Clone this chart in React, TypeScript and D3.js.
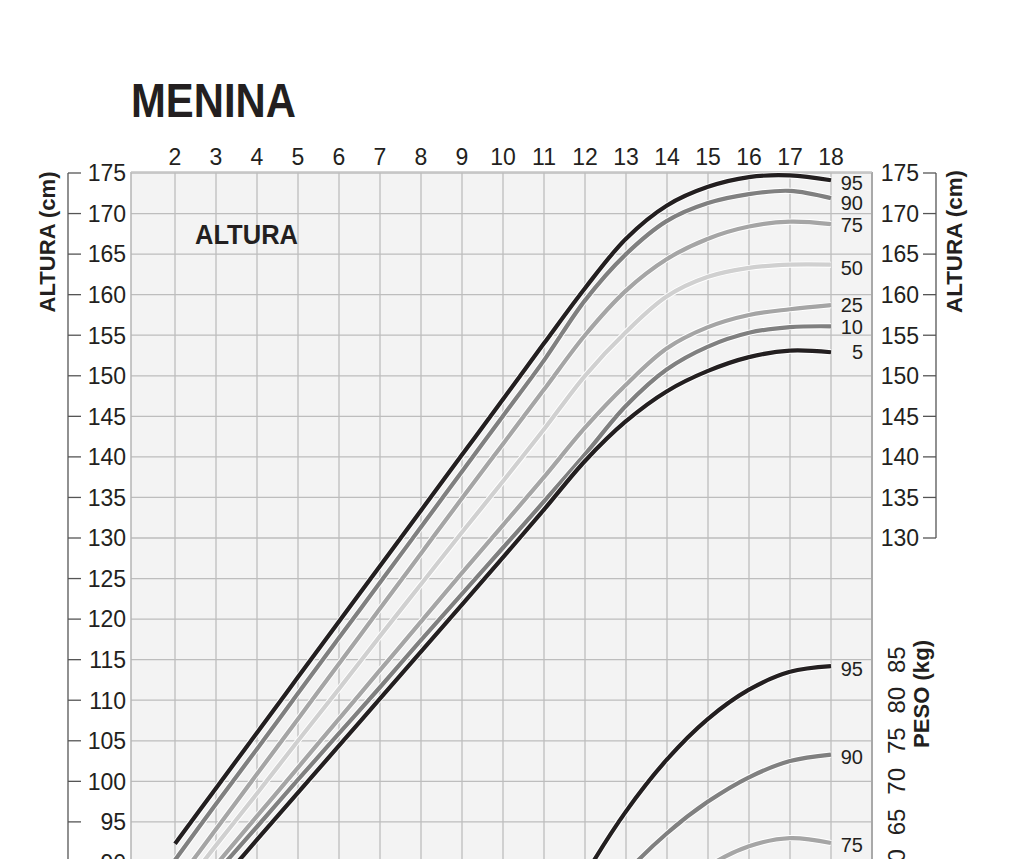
import React from 'react';
import * as d3 from 'd3';

// ---------- DATA ----------
const AGES = [2, 3, 4, 5, 6, 7, 8, 9, 10, 11, 12, 13, 14, 15, 16, 17, 18];
const H_P95 = [92.3, 99.15, 106.0, 112.85, 119.7, 126.55, 133.4, 140.25, 147.1, 154.0, 160.8, 166.9, 171.0, 173.3, 174.5, 174.7, 174.1];
const H_P90 = [90.3, 97.2, 104.0, 110.85, 117.7, 124.5, 131.35, 138.2, 145.05, 151.9, 159.3, 165.0, 169.1, 171.3, 172.4, 172.8, 171.9];
const H_P75 = [87.3, 94.1, 100.9, 107.7, 114.5, 121.3, 128.1, 134.9, 141.6, 148.3, 155.0, 160.5, 164.4, 166.9, 168.4, 169.0, 168.7];
const H_P50 = [85.6, 92.1, 98.5, 105.0, 111.4, 117.9, 124.3, 130.7, 137.0, 143.4, 150.0, 155.4, 159.8, 162.2, 163.3, 163.7, 163.7];
const H_P25 = [83.8, 89.7, 95.7, 101.7, 107.7, 113.7, 119.7, 125.7, 131.6, 137.5, 143.6, 148.9, 153.4, 156.0, 157.5, 158.2, 158.7];
const H_P10 = [83.0, 88.7, 94.4, 100.2, 105.9, 111.6, 117.4, 123.1, 128.8, 134.5, 140.3, 146.3, 150.8, 153.6, 155.3, 156.0, 156.1];
const H_P5 = [81.3, 87.0, 92.8, 98.6, 104.4, 110.2, 116.0, 121.8, 127.6, 133.5, 139.5, 144.4, 148.1, 150.6, 152.3, 153.1, 152.9];

const W_AGES_95 = [11, 12, 13, 14, 15, 16, 17, 18];
const W_P95 = [49.1, 58.4, 66.3, 72.7, 77.7, 81.3, 83.5, 84.2];
const W_AGES_90 = [12, 13, 14, 15, 16, 17, 18];
const W_P90 = [52.5, 58.7, 63.6, 67.5, 70.5, 72.5, 73.3];
const W_AGES_75 = [13, 14, 15, 16, 17, 18];
const W_P75 = [49.7, 55.4, 59.5, 62.0, 63.0, 62.4];

const AGE_TICKS = AGES;
const LEFT_TICKS = [175, 170, 165, 160, 155, 150, 145, 140, 135, 130, 125, 120, 115, 110, 105, 100, 95, 90, 85];
const RIGHT_TICKS = [175, 170, 165, 160, 155, 150, 145, 140, 135, 130];
const WEIGHT_TICKS = [85, 80, 75, 70, 65, 60];

const TITLE = 'MENINA';
const PANEL_LABEL = 'ALTURA';
const HEIGHT_AXIS_TITLE = 'ALTURA (cm)';
const WEIGHT_AXIS_TITLE = 'PESO (kg)';

// ---------- STYLE / LAYOUT ----------
const BLACK = '#231f20';
const GREY_D = '#808080';
const GREY_M = '#a5a5a5';
const GREY_L = '#d0d0d0';

const heightSeries = [
  { label: '50', values: H_P50, color: GREY_L, nudge: 3 },
  { label: '25', values: H_P25, color: GREY_M, nudge: 0 },
  { label: '75', values: H_P75, color: GREY_M, nudge: 1 },
  { label: '10', values: H_P10, color: GREY_D, nudge: 0 },
  { label: '90', values: H_P90, color: GREY_D, nudge: 5 },
  { label: '5', values: H_P5, color: BLACK, nudge: 0 },
  { label: '95', values: H_P95, color: BLACK, nudge: 2 },
];
const weightSeries = [
  { label: '75', ages: W_AGES_75, values: W_P75, color: GREY_M, nudge: 2 },
  { label: '90', ages: W_AGES_90, values: W_P90, color: GREY_D, nudge: 2 },
  { label: '95', ages: W_AGES_95, values: W_P95, color: BLACK, nudge: 3 },
];

const FONT = '"Liberation Sans", Arial, Helvetica, sans-serif';
const PL = 131, PR = 872, PT = 172, PB = 960;

const x = d3.scaleLinear().domain([2, 18]).range([175, 831]);
const y = d3.scaleLinear().domain([130, 175]).range([538, 173]);
const yW = d3.scaleLinear().domain([55, 85]).range([y(85), y(115)]);

export default function App() {
  const curve = d3.curveCatmullRom.alpha(0.5);
  const hLine = d3.line<number>()
    .x((_, i) => x(AGES[i]))
    .y((d) => y(d))
    .curve(curve);

  const gridAges = d3.range(2, 19);
  const gridH = d3.range(85, 180, 5);

  return (
    <svg width={1024} height={859} style={{ position: 'absolute', left: 0, top: 0, background: '#fff' }} fontFamily={FONT}>
      <defs>
        <clipPath id="plotclip">
          <rect x={PL} y={PT} width={PR - PL} height={PB - PT} />
        </clipPath>
      </defs>
      {/* title */}
      <text x={131} y={117} fontSize={49} fontWeight="bold" fill={BLACK} textLength={165} lengthAdjust="spacingAndGlyphs">{TITLE}</text>

      {/* plot background */}
      <rect x={PL} y={PT} width={PR - PL} height={PB - PT} fill="#f3f3f3" />
      {gridAges.map((a) => (
        <line key={'v' + a} x1={x(a)} x2={x(a)} y1={PT} y2={PB} stroke="#bdbdbd" strokeWidth={1.3} />
      ))}
      {gridH.map((h) => (
        <line key={'h' + h} x1={PL} x2={PR} y1={y(h)} y2={y(h)} stroke="#bdbdbd" strokeWidth={1.3} />
      ))}
      <line x1={PL} x2={PL} y1={PT} y2={PB} stroke="#b5b5b5" strokeWidth={1.5} />
      <line x1={PR} x2={PR} y1={PT} y2={PB} stroke="#a9a9a9" strokeWidth={2} />
      <line x1={PL} x2={PR} y1={PT} y2={PT} stroke="#c4c4c4" strokeWidth={1.3} />

      <text x={195} y={244} fontSize={27} fontWeight="bold" fill={BLACK} textLength={103} lengthAdjust="spacingAndGlyphs">{PANEL_LABEL}</text>

      {/* height curves */}
      <g clipPath="url(#plotclip)">
        {heightSeries.map((s) => {
          const d = hLine(s.values) || '';
          return (
            <g key={'hs' + s.label}>
              <path d={d} fill="none" stroke="#fff" strokeWidth={6} />
              <path d={d} fill="none" stroke={s.color} strokeWidth={4.2} />
            </g>
          );
        })}
        {weightSeries.map((s) => {
          const wl = d3.line<number>()
            .x((_, i) => x(s.ages[i]))
            .y((d) => yW(d))
            .curve(curve);
          const d = wl(s.values) || '';
          return (
            <g key={'ws' + s.label}>
              <path d={d} fill="none" stroke="#fff" strokeWidth={6} />
              <path d={d} fill="none" stroke={s.color} strokeWidth={4.2} />
            </g>
          );
        })}
      </g>

      {/* percentile labels */}
      {heightSeries.map((s) => (
        <text key={'hl' + s.label} x={863} y={y(s.values[s.values.length - 1]) + s.nudge} dy="0.36em" textAnchor="end" fontSize={20} fill={BLACK}>{s.label}</text>
      ))}
      {weightSeries.map((s) => (
        <text key={'wl' + s.label} x={863} y={yW(s.values[s.values.length - 1]) + s.nudge} dy="0.36em" textAnchor="end" fontSize={20} fill={BLACK}>{s.label}</text>
      ))}

      {/* top age labels */}
      {AGE_TICKS.map((a) => (
        <text key={'age' + a} x={x(a)} y={165} textAnchor="middle" fontSize={23} fill={BLACK}>{a}</text>
      ))}

      {/* left axis */}
      <line x1={68} x2={68} y1={y(175)} y2={PB} stroke="#555" strokeWidth={1.3} />
      {LEFT_TICKS.map((t) => (
        <g key={'lt' + t}>
          <line x1={68} x2={81} y1={y(t)} y2={y(t)} stroke="#555" strokeWidth={1.3} />
          <text x={126} y={y(t)} dy="0.36em" textAnchor="end" fontSize={23} fill={BLACK}>{t}</text>
        </g>
      ))}
      <text transform={`translate(55, ${242}) rotate(-90)`} textAnchor="middle" fontSize={22} fontWeight="bold" fill={BLACK} textLength={141} lengthAdjust="spacingAndGlyphs">{HEIGHT_AXIS_TITLE}</text>

      {/* right axis */}
      <line x1={936} x2={936} y1={y(175)} y2={y(130)} stroke="#555" strokeWidth={1.3} />
      {RIGHT_TICKS.map((t) => (
        <g key={'rt' + t}>
          <line x1={923} x2={936} y1={y(t)} y2={y(t)} stroke="#555" strokeWidth={1.3} />
          <text x={919} y={y(t)} dy="0.36em" textAnchor="end" fontSize={23} fill={BLACK}>{t}</text>
        </g>
      ))}
      <text transform={`translate(962, ${241.5}) rotate(-90)`} textAnchor="middle" fontSize={22} fontWeight="bold" fill={BLACK} textLength={143} lengthAdjust="spacingAndGlyphs">{HEIGHT_AXIS_TITLE}</text>

      {/* weight axis labels */}
      {WEIGHT_TICKS.map((t) => (
        <text key={'wt' + t} transform={`translate(905, ${yW(t)}) rotate(-90)`} textAnchor="middle" fontSize={24} fill={BLACK}>{t}</text>
      ))}
      <text transform={`translate(929, ${694}) rotate(-90)`} textAnchor="middle" fontSize={22} fontWeight="bold" fill={BLACK} textLength={108} lengthAdjust="spacingAndGlyphs">{WEIGHT_AXIS_TITLE}</text>
    </svg>
  );
}
